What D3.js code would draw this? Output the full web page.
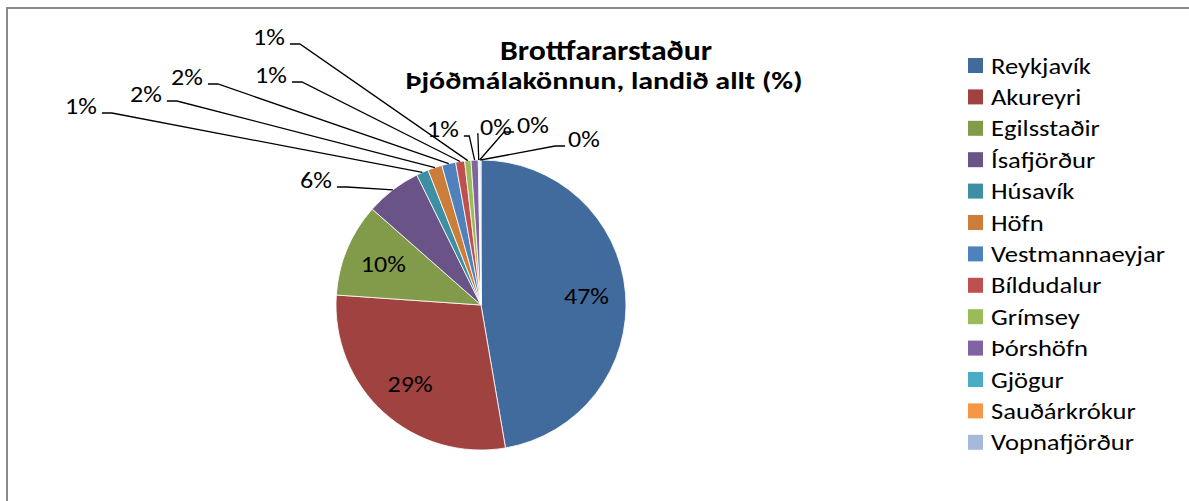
<!DOCTYPE html>
<html>
<head>
<meta charset="utf-8">
<script src="https://cdn.jsdelivr.net/npm/d3@7"></script>
<style>
  body { margin: 0; background: #fff; }
  svg { display: block; }
</style>
</head>
<body>
<script>
const w = 1189;
const h = 501;
const FONT = "Carlito, Calibri, Lato, sans-serif";

const title = "Brottfararstaður";
const subtitle = "Þjóðmálakönnun, landið allt (%)";

const categories = ["Reykjavík", "Akureyri", "Egilsstaðir", "Ísafjörður", "Húsavík", "Höfn",
    "Vestmannaeyjar", "Bíldudalur", "Grímsey", "Þórshöfn", "Gjögur", "Sauðárkrókur", "Vopnafjörður"];
const values = [47.3, 28.8, 10.4, 6.2, 1.35, 1.6, 1.55, 1.0, 0.7, 0.8, 0.1, 0.1, 0.1];
const colors = ["#426b9d", "#9f4240", "#819b4a", "#6a5387", "#3e8fa4", "#cd7d3a",
    "#4f81bd", "#c0504d", "#9bbb59", "#8064a2", "#4bacc6", "#f79646", "#a7b9da"];

// outside label placement (text centre) and which side the leader leaves from
const labelLayout = [null, null, null,
    [316, 180, "R"], [81, 106, "R"], [146, 94, "R"], [187, 77, "R"], [271, 75, "R"],
    [269, 37, "R"], [443, 129, "R"], [496, 127, "L"], [533, 125, "L"], [584, 139, "L"]];

const cx = 481, cy = 305, radius = 145;
const CAP = 0.7165; // Lato cap height / em

const svg = d3.select("body")
    .append("svg")
    .attr("width", w)
    .attr("height", h);

// chart frame (right/bottom edges fall outside the picture)
svg.append("rect")
    .attr("x", 7).attr("y", 8)
    .attr("width", w + 20).attr("height", h + 20)
    .attr("fill", "#fff")
    .attr("stroke", "#8a8a8a")
    .attr("stroke-width", 2);

// font size from cap height, horizontal squeeze from a reference width
function fit(text, weight, capPx, target) {
    const size = capPx / CAP;
    const t = svg.append("text")
        .attr("font-size", size)
        .attr("font-weight", weight)
        .style("font-family", FONT)
        .text(text);
    const tw = t.node().getComputedTextLength();
    t.remove();
    return { size: size, k: target / tw };
}

const legendF = fit("Vestmannaeyjar", "normal", 16, 174);
const labelF = fit("47%", "normal", 16.5, 45);
const titleF = fit(title, "bold", 20, 212);
const subF = fit(subtitle, "bold", 16.6, 397);

function put(sel, x, y, f) {
    return sel.attr("transform", `translate(${x},${y}) scale(${f.k},1)`)
        .attr("font-size", f.size)
        .style("font-family", FONT);
}

put(svg.append("text"), 606, 60, titleF)
    .attr("text-anchor", "middle")
    .attr("font-weight", "bold")
    .text(title);

put(svg.append("text"), 604, 89, subF)
    .attr("text-anchor", "middle")
    .attr("font-weight", "bold")
    .text(subtitle);

const total = d3.sum(values);
const data = categories.map((c, i) => ({ name: c, value: values[i], i: i }));

const pie = d3.pie().sort(null).value(d => d.value);
const arcs = pie(data);
const arc = d3.arc().innerRadius(0).outerRadius(radius);
const inner = d3.arc().innerRadius(radius * 0.73).outerRadius(radius * 0.73);
const fmt = d3.format(".0%");

const g = svg.append("g").attr("transform", `translate(${cx},${cy})`);

g.selectAll("path.slice")
    .data(arcs)
    .join("path")
    .attr("class", "slice")
    .attr("d", arc)
    .attr("fill", d => colors[d.data.i])
    .attr("stroke", "#fff")
    .attr("stroke-width", 0.8);

// inside labels
arcs.filter(d => !labelLayout[d.data.i]).forEach(d => {
    const [x, y] = inner.centroid(d);
    put(g.append("text"), x, y, labelF)
        .attr("text-anchor", "middle")
        .attr("dy", "0.36em")
        .text(fmt(d.data.value / total));
});

// outside labels with leader lines
const outside = arcs.filter(d => labelLayout[d.data.i]);
const lab = svg.append("g");

outside.forEach(d => {
    const [lx, ly, side] = labelLayout[d.data.i];
    const t = put(lab.append("text"), lx, ly, labelF)
        .attr("text-anchor", "middle")
        .attr("dy", "0.36em")
        .text(fmt(d.data.value / total));
    const half = t.node().getComputedTextLength() * labelF.k / 2;
    const mid = (d.startAngle + d.endAngle) / 2;
    const ex = cx + radius * Math.sin(mid);
    const ey = cy - radius * Math.cos(mid);
    const sx = side === "R" ? lx + half + 5 : lx - half - 3;
    const sy = ly + 7;
    const dir = Math.sign(ex - sx) || 1;
    const knee = Math.min(10, Math.abs(ex - sx) / 2);
    lab.append("path")
        .attr("d", d3.line()([[sx, sy], [sx + dir * knee, sy], [ex, ey]]))
        .attr("fill", "none")
        .attr("stroke", "#000")
        .attr("stroke-width", 1.3);
});

// legend
const legend = svg.append("g").attr("transform", "translate(968,58)");
categories.forEach((c, i) => {
    legend.append("rect")
        .attr("y", i * 31.4)
        .attr("width", 15).attr("height", 15)
        .attr("fill", colors[i]);
    put(legend.append("text"), 23, i * 31.4 + 15.5, legendF)
        .text(c);
});
</script>
</body>
</html>
